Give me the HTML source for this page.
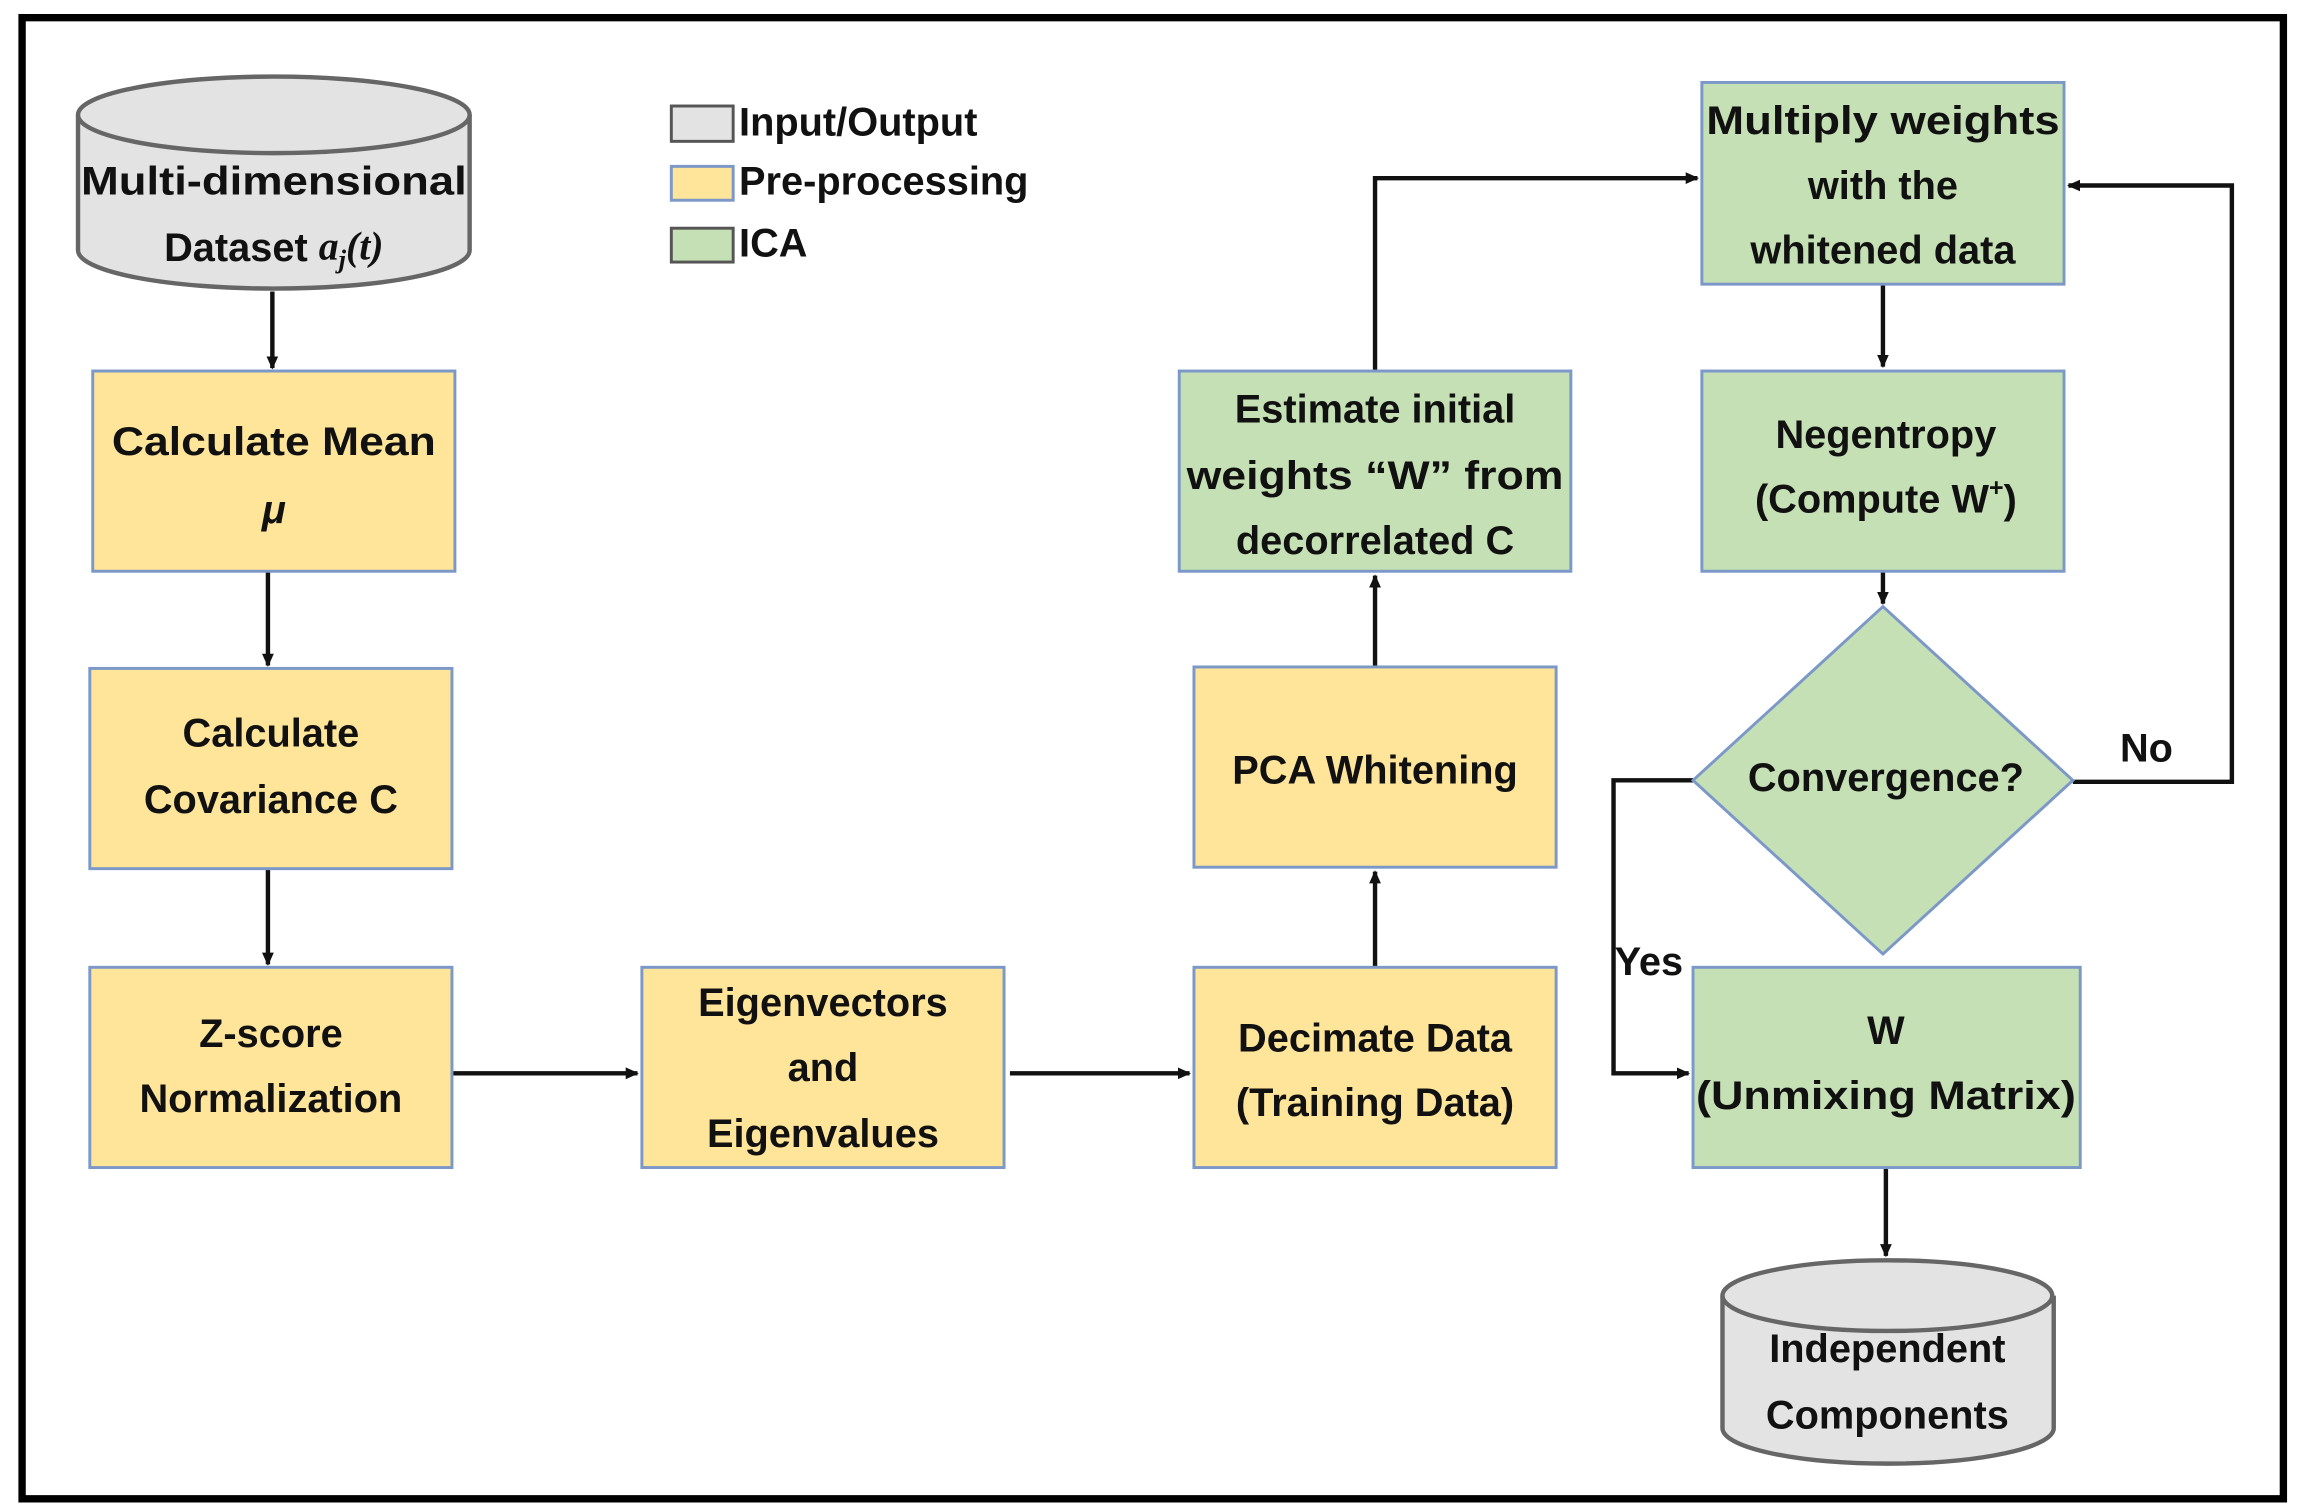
<!DOCTYPE html>
<html><head><style>
html,body{margin:0;padding:0;background:#fff;}
svg{display:block}
text{font-family:"Liberation Sans",sans-serif;font-weight:bold;font-size:27px;fill:#111;text-anchor:middle;dominant-baseline:middle}
</style></head><body>
<svg width="2304" height="1510" viewBox="0 0 1565 1025.6" preserveAspectRatio="none" xmlns="http://www.w3.org/2000/svg">
<defs><marker id="a" markerWidth="10" markerHeight="10" refX="8" refY="5" orient="auto" markerUnits="userSpaceOnUse"><path d="M0,1 L9,5 L0,9 z" fill="#111"/></marker></defs>
<rect x="15" y="12" width="1536" height="1006" fill="#fff" stroke="#000" stroke-width="5"/>
<g stroke="#111" stroke-width="3" fill="none" marker-end="url(#a)">
<line x1="185" y1="198" x2="185" y2="250"/>
<line x1="182" y1="388" x2="182" y2="452"/>
<line x1="182" y1="590" x2="182" y2="655"/>
<line x1="307" y1="729" x2="433" y2="729"/>
<line x1="686" y1="729" x2="808" y2="729"/>
<line x1="934" y1="657" x2="934" y2="592"/>
<line x1="934" y1="453" x2="934" y2="391"/>
<polyline points="934,252 934,121 1153,121"/>
<line x1="1279" y1="193" x2="1279" y2="249"/>
<line x1="1279" y1="388" x2="1279" y2="410"/>
<polyline points="1408,531 1516,531 1516,126 1405,126"/>
<polyline points="1150,530 1096,530 1096,729 1147,729"/>
<line x1="1281" y1="793" x2="1281" y2="853"/>
</g>
<g stroke="#7b98c8" stroke-width="2">
<rect x="63" y="252" width="246" height="136" fill="#ffe599"/>
<rect x="61" y="454" width="246" height="136" fill="#ffe599"/>
<rect x="61" y="657" width="246" height="136" fill="#ffe599"/>
<rect x="436" y="657" width="246" height="136" fill="#ffe599"/>
<rect x="811" y="657" width="246" height="136" fill="#ffe599"/>
<rect x="811" y="453" width="246" height="136" fill="#ffe599"/>
<rect x="801" y="252" width="266" height="136" fill="#c5e0b4"/>
<rect x="1156" y="56" width="246" height="137" fill="#c5e0b4"/>
<rect x="1156" y="252" width="246" height="136" fill="#c5e0b4"/>
<polygon points="1279,412 1408,530 1279,648 1150,530" fill="#c5e0b4"/>
<rect x="1150" y="657" width="263" height="136" fill="#c5e0b4"/>
</g>
<g stroke="#666" stroke-width="3" fill="#e3e3e3">
<path d="M53,78 L53,170 A133,26 0 0 0 319,170 L319,78"/>
<ellipse cx="186" cy="78" rx="133" ry="26"/>
<path d="M1170,880 L1170,970 A112,24 0 0 0 1395,970 L1395,880"/>
<ellipse cx="1282" cy="880" rx="112" ry="24"/>
</g>
<g stroke-width="2">
<rect x="456" y="72" width="42" height="24" fill="#e3e3e3" stroke="#555"/>
<rect x="456" y="113" width="42" height="23" fill="#ffe599" stroke="#7b98c8"/>
<rect x="456" y="155" width="42" height="23" fill="#c5e0b4" stroke="#555"/>
</g>
<g style="text-anchor:start">
<text x="502" y="85" style="text-anchor:start">Input/Output</text>
<text x="502" y="125" style="text-anchor:start">Pre-processing</text>
<text x="502" y="167" style="text-anchor:start">ICA</text>
</g>
<text x="186" y="125" textLength="262" lengthAdjust="spacingAndGlyphs">Multi-dimensional</text>
<text x="186" y="170">Dataset <tspan font-family="Liberation Serif" font-style="italic">a<tspan font-size="18" dy="8">j</tspan><tspan dy="-8">(t)</tspan></tspan></text>
<text x="186" y="302" textLength="220" lengthAdjust="spacingAndGlyphs">Calculate Mean</text>
<text x="186" y="348" font-family="Liberation Serif" font-style="italic">μ</text>
<text x="184" y="500">Calculate</text>
<text x="184" y="545">Covariance C</text>
<text x="184" y="704">Z-score</text>
<text x="184" y="748">Normalization</text>
<text x="559" y="683">Eigenvectors</text>
<text x="559" y="727">and</text>
<text x="559" y="772">Eigenvalues</text>
<text x="934" y="707">Decimate Data</text>
<text x="934" y="751">(Training Data)</text>
<text x="934" y="525">PCA Whitening</text>
<text x="934" y="280">Estimate initial</text>
<text x="934" y="325" textLength="256" lengthAdjust="spacingAndGlyphs">weights “W” from</text>
<text x="934" y="369">decorrelated C</text>
<text x="1279" y="84" textLength="240" lengthAdjust="spacingAndGlyphs">Multiply weights</text>
<text x="1279" y="128">with the</text>
<text x="1279" y="172">whitened data</text>
<text x="1281" y="297">Negentropy</text>
<text x="1281" y="341">(Compute W<tspan font-size="17" dy="-9">+</tspan><tspan dy="9">)</tspan></text>
<text x="1281" y="530">Convergence?</text>
<text x="1458" y="510">No</text>
<text x="1120" y="655" font-size="25">Yes</text>
<text x="1281" y="702">W</text>
<text x="1281" y="746" textLength="258" lengthAdjust="spacingAndGlyphs">(Unmixing Matrix)</text>
<text x="1282" y="918">Independent</text>
<text x="1282" y="963">Components</text>
</svg>
</body></html>
